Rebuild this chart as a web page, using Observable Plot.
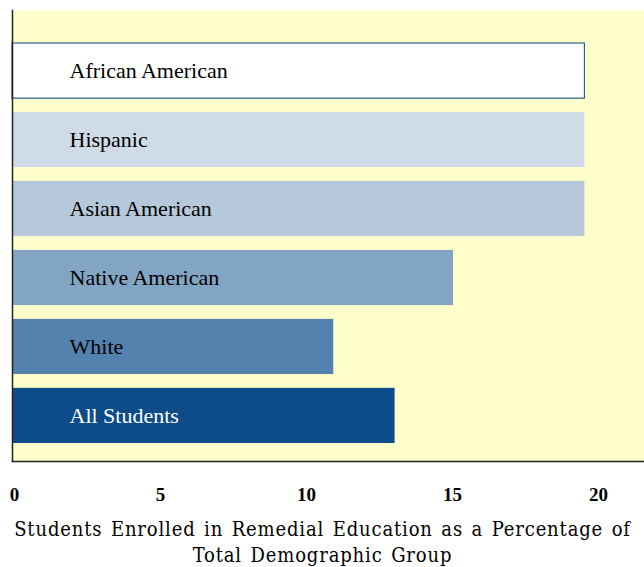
<!DOCTYPE html>
<html>
<head>
<meta charset="utf-8">
<script src="https://cdn.jsdelivr.net/npm/d3@7"></script>
<script src="https://cdn.jsdelivr.net/npm/@observablehq/plot@0.6"></script>
<style>
  html, body { margin: 0; padding: 0; background: #ffffff; }
</style>
</head>
<body>
<div id="chart"></div>
<script>
const groups = ["African American", "Hispanic", "Asian American", "Native American", "White", "All Students"];
const values = [19.6, 19.6, 19.6, 15.1, 11.0, 13.1];
const fills = ["#ffffff", "#cfdbe6", "#b5c9da", "#82a5c4", "#5282ad", "#0b4c89"];
const labelColors = ["#000000", "#000000", "#000000", "#000000", "#000000", "#ffffff"];
const xTicks = [0, 5, 10, 15, 20];
const axisTitle = "Students Enrolled in Remedial Education as a Percentage of\nTotal Demographic Group";

const data = groups.map((g, i) => ({group: g, value: values[i], fill: fills[i], labelColor: labelColors[i]}));

const chart = Plot.plot({
  width: 644,
  height: 567,
  marginLeft: 12,
  marginRight: 0,
  marginTop: 10,
  marginBottom: 106,
  style: {fontFamily: "Liberation Serif", background: "#ffffff"},
  x: {domain: [0, 21.64], axis: null},
  y: {domain: groups, range: [43, 443], paddingInner: 0.2, paddingOuter: 0, round: false, axis: null},
  marks: [
    Plot.frame({fill: "#ffffcc", stroke: null}),
    Plot.barX(data, {
      y: "group", x: "value",
      fill: d => d.fill,
      stroke: d => d.group === "African American" ? "#2a5e8e" : "none",
      strokeWidth: 1.2
    }),
    Plot.text(data, {
      y: "group", text: "group",
      frameAnchor: "left", dx: 57, textAnchor: "start",
      fill: d => d.labelColor, fontSize: 22, fontFamily: "Liberation Serif"
    }),
    Plot.frame({anchor: "left", stroke: "#222222", strokeWidth: 1.5}),
    Plot.frame({anchor: "bottom", stroke: "#222222", strokeWidth: 1.5}),
    Plot.axisX({
      ticks: xTicks, tickSize: 0, tickPadding: 26, label: null, dx: 2,
      fontSize: 19, fontWeight: "bold", fontFamily: "Liberation Serif", fill: "#000000"
    }),
    Plot.text([axisTitle], {
      text: d => d, frameAnchor: "bottom", dy: 79, dx: -6,
      lineAnchor: "middle", lineHeight: 1.3,
      fontSize: 20, fontFamily: "DejaVu Serif Condensed", fill: "#000000"
    })
  ]
});

const textGroups = chart.querySelectorAll('g[aria-label="text"]');
const titleGroup = textGroups[textGroups.length - 1];
if (titleGroup) {
  titleGroup.setAttribute("letter-spacing", "0.85");
  titleGroup.setAttribute("word-spacing", "2");
  titleGroup.style.letterSpacing = "0.85px";
  titleGroup.style.wordSpacing = "2px";
}

document.getElementById("chart").appendChild(chart);
</script>
</body>
</html>
